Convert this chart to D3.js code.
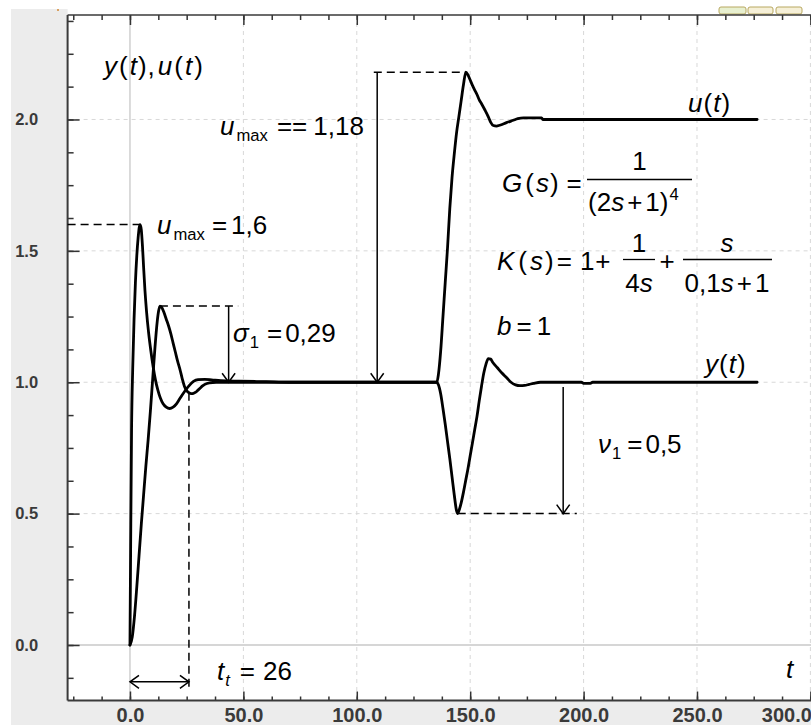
<!DOCTYPE html>
<html>
<head>
<meta charset="utf-8">
<script src="https://cdn.jsdelivr.net/npm/d3@7"></script>
<style>
  html, body { margin: 0; padding: 0; background: #fff; }
  svg { display: block; }
</style>
</head>
<body>
<svg id="chart" width="811" height="725"></svg>
<script>
// ---------- tick values ----------
const xTicksMajor = [0, 50, 100, 150, 200, 250, 300];
const yTicksMajor = [0, 0.5, 1.0, 1.5, 2.0];
const xTicksMinor = d3.range(-25, 300.1, 12.5);
const yTicksMinor = d3.range(-1, 20).map(k => k * 0.125);

// ---------- control signal u(t): set-point step at t = 0, load step at t ≈ 135 ----------
const uTime = [
  0, 0.3, 0.7, 1.2, 1.8, 2.4, 3.0, 3.6, 4.1, 4.5,
  5.0, 5.5, 6.0, 6.6, 7.3, 8.2, 9.2, 10.2, 11.2, 12.3,
  13.4, 14.6, 16.0, 17.5, 19.0, 20.5, 22.0, 24.0, 26.0, 28.0,
  30.0, 33.0, 36.0, 40.0, 48.0, 60.0, 70.0, 135.3,
  136, 137, 138, 139, 140, 141, 142, 143, 144, 145,
  146, 147, 148.1, 149, 150, 151, 152, 153, 154, 155,
  156.5, 158, 159, 160.2, 161.6, 163, 166, 169, 171, 173.5,
  181.5, 182, 276.5
];
const uValue = [
  0, 0.38, 0.82, 1.05, 1.24, 1.38, 1.48, 1.55, 1.59, 1.6,
  1.58, 1.52, 1.44, 1.35, 1.27, 1.19, 1.12, 1.06, 1.01, 0.97,
  0.94, 0.918, 0.905, 0.9, 0.905, 0.918, 0.938, 0.964, 0.986, 1.003,
  1.01, 1.011, 1.009, 1.006, 1.004, 1.002, 1.0, 1.0,
  1.03, 1.12, 1.25, 1.38, 1.51, 1.66, 1.78, 1.87, 1.95, 2.01,
  2.07, 2.13, 2.18, 2.17, 2.15, 2.13, 2.112, 2.095, 2.075, 2.06,
  2.036, 2.01, 1.99, 1.977, 1.975, 1.978, 1.988, 1.997, 2.003, 2.006,
  2.006, 2.0, 2.0
];

// ---------- plant output y(t) ----------
const yTime = [
  0, 1, 2, 3, 4, 5, 6, 7, 8, 9, 10, 11, 12, 12.6, 13.2,
  14, 15, 16, 17, 18, 19, 20, 21, 22, 23, 24, 25, 26, 27, 28, 29, 30, 31, 32, 33,
  35, 38, 135.3,
  136, 137, 138, 139, 140, 141, 142, 143, 144, 144.5,
  145, 146, 147, 148, 149, 150, 151, 152, 153, 154, 155, 156, 157, 158, 159, 160,
  162, 164, 166, 168, 170, 172, 174, 176, 178, 181,
  199, 200, 203, 204, 276.5
];
const yValue = [
  0, 0.03, 0.11, 0.22, 0.34, 0.46, 0.57, 0.68, 0.78, 0.89, 1.01, 1.13, 1.23, 1.27, 1.29,
  1.285, 1.265, 1.24, 1.215, 1.185, 1.15, 1.115, 1.08, 1.05, 1.015, 0.985, 0.968, 0.96, 0.957, 0.958, 0.962, 0.97, 0.978, 0.986, 0.992,
  0.998, 1.0, 1.0,
  0.99, 0.955, 0.9, 0.84, 0.775, 0.71, 0.64, 0.57, 0.51, 0.5,
  0.51, 0.54, 0.58, 0.625, 0.67, 0.72, 0.77, 0.82, 0.87, 0.93, 0.985, 1.035, 1.07, 1.09, 1.088, 1.075,
  1.055, 1.035, 1.018, 1.0, 0.99, 0.987, 0.988, 0.992, 0.996, 1.0,
  1.0, 0.996, 0.996, 1.0, 1.0
];

// ---------- quality indices shown on the plot ----------
const uMaxSetpoint = 1.6;      // peak of u after the set-point step
const uMaxSetpointTime = 4.5;
const overshoot = 0.29;        // sigma_1
const yPeakTime = 13.2;
const settleTime = 26;         // t_t
const uRiseLoad = 1.18;        // extra control effort after the load step
const uPeakLoadTime = 148.1;
const dipDepth = 0.5;          // nu_1
const yDipTime = 144.5;

(function draw() {
  const W = 811, H = 725;
  const svg = d3.select('#chart');
  const MATH_FONT = '"Liberation Sans", Arial, sans-serif';
  const FS = 26;

  const x = d3.scaleLinear().domain([-27.5, 300]).range([67.6, 810.4]);
  const y = d3.scaleLinear().domain([-0.2112, 2.3976]).range([700.5, 15]);
  const plotLeft = x.range()[0], plotTop = y.range()[1], plotBottom = y.range()[0];

  // window background
  svg.append('rect').attr('width', W).attr('height', H).attr('fill', '#fff');
  svg.append('rect').attr('x', 11).attr('y', 9).attr('width', plotLeft - 11).attr('height', H - 9).attr('fill', '#ececec');
  svg.append('rect').attr('x', 11).attr('y', plotBottom).attr('width', W - 11).attr('height', H - plotBottom).attr('fill', '#ececec');

  // small toolbar buttons in the corner
  const btns = svg.append('g');
  [[719, 27], [748, 25], [776, 26]].forEach(([bx, bw], i) => {
    btns.append('rect').attr('x', bx).attr('y', 7).attr('width', bw).attr('height', 7).attr('rx', 2)
      .attr('fill', i === 0 ? '#e8f0d0' : '#f6f0d8').attr('stroke', '#b8a860').attr('stroke-width', 1);
  });
  svg.append('rect').attr('x', 57).attr('y', 9).attr('width', 2).attr('height', 2).attr('fill', '#d9a060');

  // ---------- grid ----------
  const grid = svg.append('g');
  grid.selectAll('.vg').data(xTicksMajor.filter(v => v !== 0)).join('line')
    .attr('x1', d => x(d)).attr('x2', d => x(d)).attr('y1', plotTop).attr('y2', plotBottom)
    .attr('stroke', '#d8d8d8').attr('stroke-width', 1).attr('stroke-dasharray', '4,4');
  grid.selectAll('.hg').data(yTicksMajor.filter(v => v !== 0)).join('line')
    .attr('x1', plotLeft).attr('x2', W).attr('y1', d => y(d)).attr('y2', d => y(d))
    .attr('stroke', '#d8d8d8').attr('stroke-width', 1).attr('stroke-dasharray', '4,4');
  grid.append('line').attr('x1', x(0)).attr('x2', x(0)).attr('y1', plotTop).attr('y2', plotBottom)
    .attr('stroke', '#c8c8c8').attr('stroke-width', 1.3);
  grid.append('line').attr('x1', plotLeft).attr('x2', W).attr('y1', y(0)).attr('y2', y(0))
    .attr('stroke', '#c8c8c8').attr('stroke-width', 1.3);

  // ---------- axes ----------
  function styleTicks(g) {
    g.select('.domain').remove();
    g.selectAll('.tick line').attr('stroke', '#333').attr('stroke-width', 1.5);
  }
  svg.append('g').attr('transform', `translate(0,${plotBottom})`)
    .call(d3.axisBottom(x).tickValues(xTicksMinor).tickSize(-4).tickFormat(''))
    .call(styleTicks);
  const xAxis = svg.append('g').attr('transform', `translate(0,${plotBottom})`)
    .call(d3.axisBottom(x).tickValues(xTicksMajor).tickSize(-9).tickFormat(d3.format('.1f')))
    .call(styleTicks);
  xAxis.selectAll('.tick text')
    .attr('y', 21.5).attr('dy', 0)
    .attr('font-family', '"Liberation Sans Narrow", "Arial Narrow", "Liberation Sans", sans-serif')
    .attr('font-weight', 'bold').attr('font-size', 20).attr('fill', '#3a3a3a')
    .filter(d => d === 300).attr('text-anchor', 'end').attr('x', 1);

  svg.append('g').attr('transform', `translate(0,${plotTop})`)
    .call(d3.axisTop(x).tickValues(xTicksMinor).tickSize(-5).tickFormat(''))
    .call(styleTicks);
  svg.append('g').attr('transform', `translate(0,${plotTop})`)
    .call(d3.axisTop(x).tickValues(xTicksMajor).tickSize(-10).tickFormat(''))
    .call(styleTicks);

  svg.append('g').attr('transform', `translate(${plotLeft},0)`)
    .call(d3.axisLeft(y).tickValues(yTicksMinor).tickSize(-6).tickFormat(''))
    .call(styleTicks);
  const yAxis = svg.append('g').attr('transform', `translate(${plotLeft},0)`)
    .call(d3.axisLeft(y).tickValues(yTicksMajor).tickSize(-12).tickFormat(d3.format('.1f')))
    .call(styleTicks);
  yAxis.selectAll('.tick text')
    .attr('x', -29.5).attr('text-anchor', 'end')
    .attr('font-family', '"Liberation Sans", Arial, sans-serif')
    .attr('font-weight', 'bold').attr('font-size', 16.5).attr('fill', '#3a3a3a');

  // frame
  const frame = svg.append('g').attr('stroke', '#3a3a3a').attr('fill', 'none');
  frame.append('line').attr('x1', plotLeft).attr('x2', plotLeft).attr('y1', plotTop).attr('y2', plotBottom).attr('stroke-width', 2);
  frame.append('line').attr('x1', plotLeft).attr('x2', W).attr('y1', plotBottom).attr('y2', plotBottom).attr('stroke-width', 2);
  frame.append('line').attr('x1', plotLeft).attr('x2', W).attr('y1', plotTop).attr('y2', plotTop).attr('stroke-width', 1.6);

  // ---------- curves ----------
  svg.append('clipPath').attr('id', 'plot-clip').append('rect')
    .attr('x', plotLeft).attr('y', plotTop).attr('width', W - plotLeft).attr('height', plotBottom - plotTop);
  const line = d3.line().x(d => x(d[0])).y(d => y(d[1])).curve(d3.curveMonotoneX);
  const curves = svg.append('g').attr('clip-path', 'url(#plot-clip)')
    .attr('fill', 'none').attr('stroke', '#000').attr('stroke-width', 2.8)
    .attr('stroke-linejoin', 'round').attr('stroke-linecap', 'round');
  curves.append('path').attr('d', line(d3.zip(yTime, yValue)));
  curves.append('path').attr('d', line(d3.zip(uTime, uValue)));

  // ---------- annotation lines ----------
  const defs = svg.append('defs');
  defs.append('marker').attr('id', 'vhead')
    .attr('viewBox', '-11 -8 13 16').attr('markerUnits', 'userSpaceOnUse')
    .attr('markerWidth', 13).attr('markerHeight', 16).attr('refX', 0).attr('refY', 0)
    .attr('orient', 'auto-start-reverse')
    .append('path').attr('d', 'M-9,-6.5 L0,0 L-9,6.5')
    .attr('fill', 'none').attr('stroke', '#000').attr('stroke-width', 1.5);

  const ann = svg.append('g').attr('stroke', '#000').attr('fill', 'none');
  function dashed(x1, y1, x2, y2) {
    ann.append('line').attr('x1', x1).attr('y1', y1).attr('x2', x2).attr('y2', y2)
      .attr('stroke-width', 1.5).attr('stroke-dasharray', '8,5');
  }
  function arrow(x1, y1, x2, y2, both) {
    const l = ann.append('line').attr('x1', x1).attr('y1', y1).attr('x2', x2).attr('y2', y2)
      .attr('stroke-width', 1.5).attr('marker-end', 'url(#vhead)');
    if (both) l.attr('marker-start', 'url(#vhead)');
  }

  // peak of u after set-point change
  dashed(plotLeft, y(uMaxSetpoint), x(uMaxSetpointTime), y(uMaxSetpoint));
  // overshoot sigma_1
  dashed(x(yPeakTime), y(1 + overshoot), x(47.7), y(1 + overshoot));
  arrow(x(43.5), y(1 + overshoot), x(43.5), y(1.0));
  // u increase after load step
  dashed(x(107.5), y(1 + uRiseLoad), x(uPeakLoadTime), y(1 + uRiseLoad));
  arrow(x(109), y(1 + uRiseLoad), x(109), y(1.0));
  // load dip nu_1
  dashed(x(yDipTime), y(1 - dipDepth), x(197), y(1 - dipDepth));
  arrow(x(191), y(0.982), x(191), y(1 - dipDepth));
  // settling time t_t
  dashed(x(settleTime), y(0.96), x(settleTime), y(-0.17));
  arrow(x(0), y(-0.14), x(settleTime), y(-0.14), true);

  // ---------- math labels ----------
  function math(x0, y0, parts, anchor) {
    const t = svg.append('text').attr('x', x0).attr('y', y0)
      .attr('font-family', MATH_FONT).attr('font-size', FS).attr('fill', '#000');
    if (anchor) t.attr('text-anchor', anchor);
    let shift = 0;
    parts.forEach(p => {
      const s = t.append('tspan').text(p.s);
      if (p.i) s.attr('font-style', 'italic');
      const target = p.sub ? 6 : p.sup ? -11 : 0;
      if (p.sub || p.sup) s.attr('font-size', FS * 0.64);
      if (target !== shift) s.attr('dy', target - shift);
      shift = target;
      if (p.dx) s.attr('dx', p.dx);
    });
    return t;
  }
  function rule(x1, x2, yy) {
    svg.append('line').attr('x1', x1).attr('x2', x2).attr('y1', yy).attr('y2', yy)
      .attr('stroke', '#000').attr('stroke-width', 1.3);
  }

  math(104, 75, [{s:'y',i:1},{s:'(',dx:2},{s:'t',i:1,dx:2},{s:')',dx:1},{s:',',dx:1},
                 {s:'u',i:1,dx:3},{s:'(',dx:2},{s:'t',i:1,dx:2},{s:')',dx:2}]);
  math(220, 135, [{s:'u',i:1},{s:'max',sub:1,dx:2},{s:'==',dx:9},{s:'1,18',dx:6}]);
  math(157, 234, [{s:'u',i:1},{s:'max',sub:1,dx:2},{s:'=',dx:7},{s:'1,6',dx:4}]);
  math(233, 342, [{s:'σ',i:1},{s:'1',sub:1,dx:1},{s:'=',dx:8},{s:'0,29',dx:3}]);
  math(598, 453, [{s:'ν',i:1},{s:'1',sub:1,dx:1},{s:'=',dx:6},{s:'0,5',dx:3}]);
  math(217, 680, [{s:'t',i:1},{s:'t',i:1,sub:1,dx:1},{s:'=',dx:10},{s:'26',dx:8}]);

  // G(s)
  math(502, 192, [{s:'G',i:1},{s:'(',dx:3},{s:'s',i:1,dx:2},{s:')',dx:1},{s:'=',dx:8}]);
  rule(587, 692, 179.5);
  math(639.5, 170, [{s:'1'}], 'middle');
  math(588, 211, [{s:'(2'},{s:'s',i:1},{s:'+',dx:3},{s:'1)',dx:3},{s:'4',sup:1,dx:1}]);

  // K(s)
  math(497, 270, [{s:'K',i:1},{s:'(',dx:4},{s:'s',i:1,dx:3},{s:')',dx:2},{s:'=',dx:3},{s:'1',dx:8},{s:'+',dx:1}]);
  rule(623, 655, 259.5);
  math(639, 252, [{s:'1'}], 'middle');
  math(639, 292, [{s:'4'},{s:'s',i:1}], 'middle');
  math(667, 270, [{s:'+'}], 'middle');
  rule(683, 772, 259.5);
  math(727, 252, [{s:'s',i:1}], 'middle');
  math(727, 292, [{s:'0,1'},{s:'s',i:1},{s:'+',dx:3},{s:'1',dx:3}], 'middle');

  math(497, 335, [{s:'b',i:1},{s:'=',dx:5},{s:'1',dx:5}]);

  math(688, 112, [{s:'u',i:1},{s:'(',dx:1},{s:'t',i:1,dx:1},{s:')',dx:1}]);
  math(705, 373, [{s:'y',i:1},{s:'(',dx:1},{s:'t',i:1,dx:1},{s:')',dx:1}]);
  math(786, 678, [{s:'t',i:1}]);
})();
</script>
</body>
</html>
